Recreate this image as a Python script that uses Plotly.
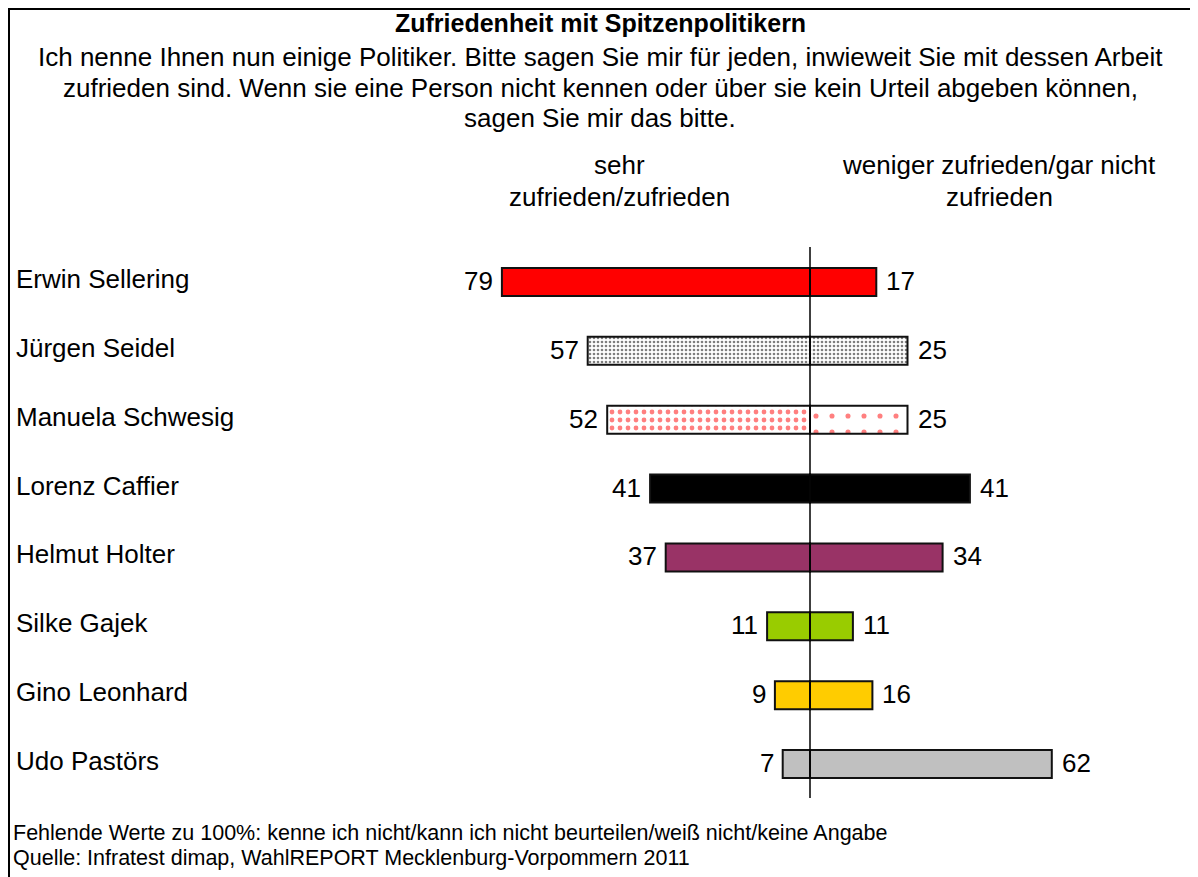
import plotly.graph_objects as go

names = ["Erwin Sellering", "Jürgen Seidel", "Manuela Schwesig", "Lorenz Caffier",
         "Helmut Holter", "Silke Gajek", "Gino Leonhard", "Udo Pastörs"]
satisfied = [79, 57, 52, 41, 37, 11, 9, 7]
dissatisfied = [17, 25, 25, 41, 34, 11, 16, 62]
colors = ["#FF0000", "#FFFFFF", "#FFFFFF", "#000000", "#993366", "#99CC00", "#FFCC00", "#C0C0C0"]

title = "<b>Zufriedenheit mit Spitzenpolitikern</b>"
subtitle = ["Ich nenne Ihnen nun einige Politiker. Bitte sagen Sie mir für jeden, inwieweit Sie mit dessen Arbeit",
            "zufrieden sind. Wenn sie eine Person nicht kennen oder über sie kein Urteil abgeben können,",
            "sagen Sie mir das bitte."]
head_left = ["sehr", "zufrieden/zufrieden"]
head_right = ["weniger zufrieden/gar nicht", "zufrieden"]
footer = ["Fehlende Werte zu 100%: kenne ich nicht/kann ich nicht beurteilen/weiß nicht/keine Angabe",
          "Quelle: Infratest dimap, WahlREPORT Mecklenburg-Vorpommern 2011"]

# figure sits at page offset (8, 8) because of the default body margin
W, H = 1190, 869
OFF = 8
FONT = "Arial, 'Liberation Sans', sans-serif"
FS = 26

# layout geometry (page pixels, converted to figure pixels)
cx, ppu = 810 - OFF, 3.9
y0px, dy = 282 - OFF, 68.86
xr = [-cx / ppu, (W - cx) / ppu]
yr = [(H - y0px) / dy, -y0px / dy]

patterns = {
    1: (dict(shape=".", fgcolor="#000000", bgcolor="#FFFFFF", size=4, solidity=0.35),
        dict(shape=".", fgcolor="#000000", bgcolor="#FFFFFF", size=4, solidity=0.35)),
    2: (dict(shape=".", fgcolor="#FF0000", bgcolor="#FFFFFF", size=8, solidity=0.28),
        dict(shape=".", fgcolor="#FF0000", bgcolor="#FFFFFF", size=16, solidity=0.08)),
}

fig = go.Figure()
bw = 28 / dy
for i, n in enumerate(names):
    pl, pr = patterns.get(i, (None, None))
    mk_l = dict(color=colors[i], line=dict(color="#111111", width=2))
    mk_r = dict(color=colors[i], line=dict(color="#111111", width=2))
    if pl:
        mk_l["pattern"] = pl
        mk_r["pattern"] = pr
    fig.add_trace(go.Bar(x=[-satisfied[i]], y=[i], base=0, orientation="h", width=bw,
                         marker=mk_l, showlegend=False, hoverinfo="skip"))
    fig.add_trace(go.Bar(x=[dissatisfied[i]], y=[i], base=0, orientation="h", width=bw,
                         marker=mk_r, showlegend=False, hoverinfo="skip"))
    fig.add_annotation(x=-satisfied[i], y=i, xref="x", yref="y", text=str(satisfied[i]),
                       showarrow=False, xanchor="right", xshift=-7, yshift=1, font=dict(size=FS))
    fig.add_annotation(x=dissatisfied[i], y=i, xref="x", yref="y", text=str(dissatisfied[i]),
                       showarrow=False, xanchor="left", xshift=8, yshift=1, font=dict(size=FS))
    fig.add_annotation(x=(14 - OFF) / W, y=i, xref="paper", yref="y", text=n, showarrow=False,
                       xanchor="left", yshift=3, font=dict(size=FS))


def py(p):
    return 1 - (p - OFF) / H


def px(p):
    return (p - OFF) / W


fig.add_annotation(x=px(600), y=1, xref="paper", yref="paper", text=title, showarrow=False,
                   xanchor="center", yanchor="top", borderpad=0, font=dict(size=25))
for k, line in enumerate(subtitle):
    fig.add_annotation(x=px(600), y=py(57 + 30.5 * k), xref="paper", yref="paper", text=line,
                       showarrow=False, xanchor="center", yanchor="middle", font=dict(size=FS))
for k in range(2):
    fig.add_annotation(x=px(620), y=py(165 + 32 * k), xref="paper", yref="paper", text=head_left[k],
                       showarrow=False, xanchor="center", yanchor="middle", font=dict(size=FS))
    fig.add_annotation(x=px(999), y=py(165 + 32 * k), xref="paper", yref="paper", text=head_right[k],
                       showarrow=False, xanchor="center", yanchor="middle", font=dict(size=FS))
for k, line in enumerate(footer):
    fig.add_annotation(x=px(11), y=py(833 + 25 * k), xref="paper", yref="paper", text=line,
                       showarrow=False, xanchor="left", yanchor="middle", font=dict(size=21.5))

# center line
fig.add_shape(type="line", xref="x", yref="y", x0=0, x1=0,
              y0=(247 - OFF - y0px) / dy, y1=(798 - OFF - y0px) / dy,
              line=dict(color="black", width=1.5), layer="above")
# frame
fig.add_shape(type="rect", xref="paper", yref="paper", x0=1 / W, x1=1.02, y0=-0.02, y1=1 - 1 / H,
              line=dict(color="black", width=2))

fig.update_layout(
    width=W, height=H, margin=dict(l=0, r=0, t=0, b=0),
    paper_bgcolor="white", plot_bgcolor="white",
    font=dict(family=FONT, color="black", size=FS),
    barmode="overlay",
    xaxis=dict(range=xr, visible=False, fixedrange=True),
    yaxis=dict(range=yr, visible=False, fixedrange=True),
)

fig.write_html("out.html")
